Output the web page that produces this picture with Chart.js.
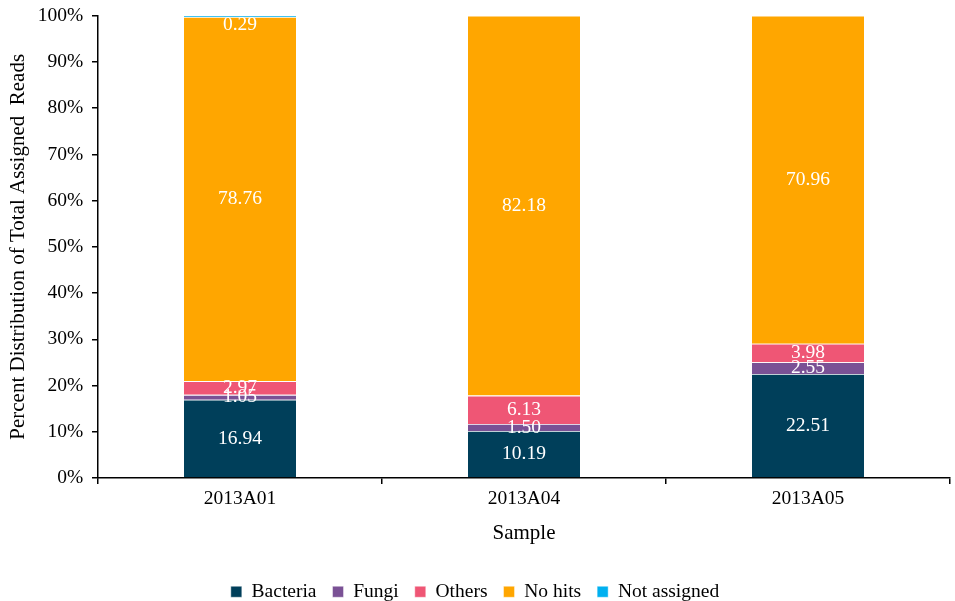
<!DOCTYPE html>
<html>
<head>
<meta charset="utf-8">
<script src="https://cdn.jsdelivr.net/npm/chart.js@4.4.1/dist/chart.umd.min.js"></script>
<style>
  html, body { margin: 0; padding: 0; background: #fff; }
  #wrap { width: 955px; height: 601px; }
</style>
</head>
<body>
<div id="wrap"><canvas id="chart" width="955" height="601"></canvas></div>
<script>
// sample names and percentage of reads per group
const samples = ['2013A01', '2013A04', '2013A05'];
const bacteria = [16.94, 10.19, 22.51];
const fungi = [1.05, 1.50, 2.55];
const others = [2.97, 6.13, 3.98];
const noHits = [78.76, 82.18, 70.96];
const notAssigned = [0.29, 0, 0];
const yTicks = [0, 10, 20, 30, 40, 50, 60, 70, 80, 90, 100];

const serif = '"Liberation Serif", "Times New Roman", serif';

const segmentLabels = {
  id: 'segmentLabels',
  afterDatasetsDraw(chart) {
    const ctx = chart.ctx;
    const top = chart.chartArea.top;
    ctx.save();
    ctx.fillStyle = '#fff';
    ctx.font = '19.5px ' + serif;
    ctx.textAlign = 'center';
    ctx.textBaseline = 'middle';
    chart.data.datasets.forEach((ds, i) => {
      chart.getDatasetMeta(i).data.forEach((bar, j) => {
        const v = ds.data[j];
        if (!v) return;
        let y = (bar.y + bar.base) / 2;
        if (y < top + 9) y = top + 9;
        ctx.fillText(v.toFixed(2), bar.x, y);
      });
    });
    ctx.restore();
  }
};

// push the legend row a bit lower than chart.js puts it
const legendShift = {
  id: 'legendShift',
  afterLayout(chart) {
    if (chart.legend) {
      chart.legend.top += 16;
      chart.legend.bottom += 16;
    }
  }
};

function makeSet(label, data, color) {
  return {
    label: label,
    data: data,
    backgroundColor: color,
    borderColor: 'rgba(255,255,255,0.55)',
    borderWidth: 0.8,
    barPercentage: 0.4,
    categoryPercentage: 1.0
  };
}

new Chart(document.getElementById('chart'), {
  type: 'bar',
  data: {
    labels: samples,
    datasets: [
      makeSet('Bacteria', bacteria, '#003f5a'),
      makeSet('Fungi', fungi, '#7a5195'),
      makeSet('Others', others, '#ef5675'),
      makeSet('No hits', noHits, '#ffa600'),
      makeSet('Not assigned', notAssigned, '#00b0f0')
    ]
  },
  options: {
    responsive: false,
    animation: false,
    layout: { padding: { left: 0, right: 5, top: 8, bottom: 5.5 } },
    plugins: {
      tooltip: { enabled: false },
      legend: {
        position: 'bottom',
        labels: {
          color: '#000',
          font: { family: serif, size: 19.5 },
          boxWidth: 11,
          boxHeight: 11,
          padding: 16
        }
      }
    },
    scales: {
      x: {
        stacked: true,
        border: { color: '#000', width: 1.5 },
        grid: { display: true, offset: true, drawOnChartArea: false, drawTicks: true, tickLength: 6, color: '#000', lineWidth: 1.5 },
        ticks: { color: '#000', font: { family: serif, size: 19.5 }, padding: 3 },
        title: { display: true, text: 'Sample', color: '#000', font: { family: serif, size: 21 }, padding: { top: 4, bottom: 4 } },
        afterFit(scale) { scale.height = 72; }
      },
      y: {
        stacked: true,
        min: 0,
        max: 100,
        afterBuildTicks(scale) { scale.ticks = yTicks.map(v => ({ value: v })); },
        border: { color: '#000', width: 1.5 },
        grid: { display: true, drawOnChartArea: false, drawTicks: true, tickLength: 6, color: '#000', lineWidth: 1.5 },
        ticks: { color: '#000', font: { family: serif, size: 19.5 }, padding: 4, callback: v => v + '% ' },
        title: { display: true, text: 'Percent Distribution of Total Assigned  Reads', color: '#000', font: { family: serif, size: 21 }, padding: { top: 6, bottom: 4 } },
        afterFit(scale) { scale.width = 98; }
      }
    }
  },
  plugins: [segmentLabels, legendShift]
});
</script>
</body>
</html>
